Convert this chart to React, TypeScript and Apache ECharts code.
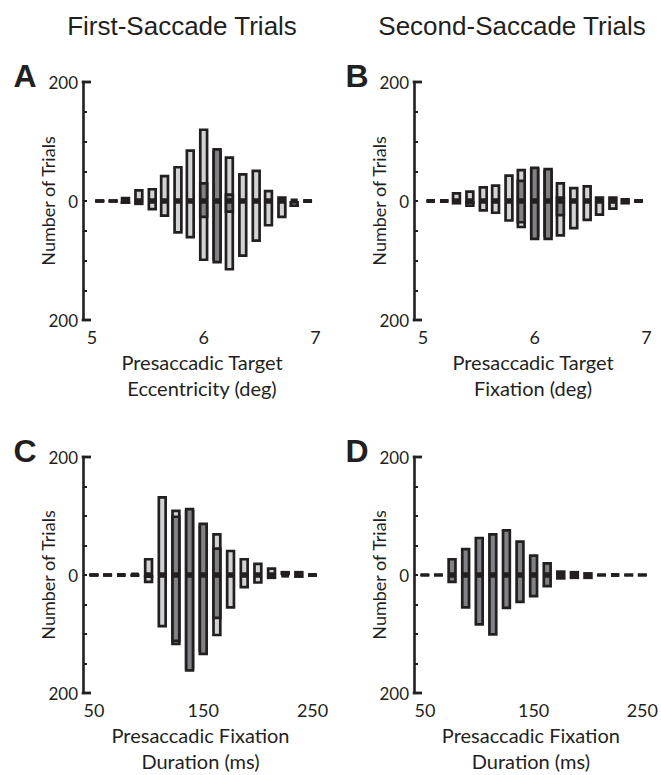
import { useEffect, useRef } from "react";
import * as echarts from "echarts";

// Bin centres
const eccBins = [5.07, 5.19, 5.3, 5.42, 5.54, 5.65, 5.77, 5.88, 6.0, 6.12, 6.23, 6.35, 6.47, 6.58, 6.7, 6.81, 6.93];
const durBins = [50, 62.5, 75, 87.5, 100, 112.5, 125, 137.5, 150, 162.5, 175, 187.5, 200, 212.5, 225, 237.5, 250];

// Panel A – first-saccade, eccentricity
const aLightUp = [1, 1, 7, 20, 22, 44, 59, 87, 122, 85, 75, 47, 53, 19, 8, 4, 2];
const aLightDown = [1, 1, 5, 7, 16, 27, 55, 63, 101, 100, 117, 94, 69, 43, 29, 10, 2];
const aDarkUp = [1, 1, 3, 2, 0, 0, 0, 0, 32, 89, 13, 0, 0, 0, 3, 0, 1];
const aDarkDown = [1, 1, 5, 2, 0, 0, 0, 0, 29, 105, 20, 0, 0, 0, 0, 0, 1];

// Panel B – second-saccade, fixation position
const bLightUp = [2, 2, 15, 18, 25, 28, 45, 54, 55, 52, 32, 24, 27, 8, 8, 3, 1];
const bLightDown = [2, 2, 6, 10, 18, 22, 35, 46, 60, 60, 60, 48, 34, 25, 15, 4, 1];
const bDarkUp = [2, 2, 2, 0, 0, 0, 0, 36, 58, 56, 8, 0, 0, 3, 3, 5, 2];
const bDarkDown = [2, 2, 2, 5, 0, 0, 0, 38, 66, 66, 26, 0, 0, 0, 0, 6, 2];

// Panel C – first-saccade, fixation duration
const cLightUp = [1, 1, 2, 2, 29, 134, 111, 110, 85, 71, 43, 29, 21, 13, 7, 7, 2];
const cLightDown = [1, 1, 2, 1, 14, 89, 119, 160, 130, 104, 57, 23, 15, 7, 4, 5, 2];
const cDarkUp = [1, 1, 2, 4, 0, 0, 101, 114, 89, 47, 0, 0, 0, 0, 2, 3, 1];
const cDarkDown = [1, 1, 2, 2, 5, 0, 114, 164, 136, 75, 0, 0, 0, 3, 3, 2, 1];

// Panel D – second-saccade, fixation duration
const dLightUp = [0, 0, 0, 0, 0, 0, 0, 0, 0, 0, 0, 0, 0, 0, 0, 0, 0];
const dLightDown = [0, 0, 0, 0, 0, 0, 0, 0, 0, 0, 0, 0, 0, 0, 0, 0, 0];
const dDarkUp = [1, 1, 29, 46, 65, 71, 78, 59, 35, 22, 8, 7, 5, 1, 2, 1, 1];
const dDarkDown = [1, 1, 14, 57, 86, 103, 58, 48, 38, 21, 8, 7, 7, 1, 2, 1, 1];

const yTickLabels = ["200", "0", "200"];
const capValues = [-200, 200];
const eccTicks = [5, 6, 7];
const durTicks = [50, 150, 250];

const titles = ["First-Saccade Trials", "Second-Saccade Trials"];
const letters = ["A", "B", "C", "D"];
const xNames = [
  "Presaccadic Target\nEccentricity (deg)",
  "Presaccadic Target\nFixation (deg)",
  "Presaccadic Fixation\nDuration (ms)",
  "Presaccadic Fixation\nDuration (ms)",
];

const INK = "#231f20";
const LIGHT = "#d1d3d4";
const DARK = "#808285";
const FONT = "Lato, 'Noto Sans', sans-serif";
const TITLE_FONT = "26px 'Liberation Sans', Arial, sans-serif";
const LETTER_FONT = "bold 32px 'Liberation Sans Narrow', 'Liberation Sans', sans-serif";
const CAP_LEN = 8;

const panels = [
  { bins: eccBins, ticks: eccTicks, min: 4.92, max: 7.05, lu: aLightUp, ld: aLightDown, du: aDarkUp, dd: aDarkDown },
  { bins: eccBins, ticks: eccTicks, min: 4.92, max: 7.05, lu: bLightUp, ld: bLightDown, du: bDarkUp, dd: bDarkDown },
  { bins: durBins, ticks: durTicks, min: 40, max: 255, lu: cLightUp, ld: cLightDown, du: cDarkUp, dd: cDarkDown },
  { bins: durBins, ticks: durTicks, min: 40, max: 255, lu: dLightUp, ld: dLightDown, du: dDarkUp, dd: dDarkDown },
];

const grids = [
  { left: 83, top: 82, width: 238, height: 238 },
  { left: 414, top: 82, width: 238, height: 238 },
  { left: 83, top: 457, width: 235, height: 240 },
  { left: 414, top: 457, width: 235, height: 240 },
];

function toData(bins: number[], vals: number[], sign: number) {
  const out: number[][] = [];
  bins.forEach((x, i) => {
    if (vals[i] > 0) out.push([x, sign * vals[i]]);
  });
  return out;
}

function buildOption() {
  const xAxis: any[] = [];
  const yAxis: any[] = [];
  const series: any[] = [];
  panels.forEach((p, i) => {
    xAxis.push({
      gridIndex: i,
      type: "value",
      min: p.min,
      max: p.max,
      axisLine: { show: false },
      axisTick: { show: false },
      splitLine: { show: false },
      axisLabel: {
        customValues: p.ticks,
        color: INK,
        fontSize: 18,
        fontFamily: FONT,
        margin: 8,
      },
      name: xNames[i],
      nameLocation: "middle",
      nameGap: 29,
      nameMoveOverlap: false,
      nameTextStyle: { color: INK, fontSize: 20, fontFamily: FONT, lineHeight: 26, verticalAlign: "top" },
    });
    yAxis.push({
      gridIndex: i,
      type: "value",
      position: "left",
      min: -200,
      max: 200,
      interval: 50,
      axisLine: { show: true, lineStyle: { color: INK, width: 2.6 } },
      axisTick: { show: true, inside: true, length: 4, lineStyle: { color: INK, width: 2 } },
      splitLine: { show: false },
      axisLabel: {
        color: INK,
        fontSize: 17,
        fontFamily: FONT,
        margin: 5,
        formatter: (v: number) => (v === 200 ? yTickLabels[0] : v === 0 ? yTickLabels[1] : v === -200 ? yTickLabels[2] : ""),
      },
      name: "Number of Trials",
      nameLocation: "middle",
      nameGap: 26,
      nameMoveOverlap: false,
      nameTextStyle: { color: INK, fontSize: 18, fontFamily: FONT },
    });
    const mk = (vals: number[], sign: number, fill: string) => ({
      type: "bar",
      xAxisIndex: i,
      yAxisIndex: i,
      barWidth: 9.5,
      barGap: "-100%",
      data: toData(p.bins, vals, sign),
      itemStyle: { color: fill, borderColor: INK, borderWidth: 2.7 },
      emphasis: { disabled: true },
    });
    series.push(mk(p.lu, 1, LIGHT), mk(p.ld, -1, LIGHT), mk(p.du, 1, DARK), mk(p.dd, -1, DARK));
  });

  return {
    animation: false,
    grid: grids.map((g) => ({ ...g, containLabel: false })),
    xAxis,
    yAxis,
    series,
    graphic: [
      { type: "text", x: 182, y: 26, style: { text: titles[0], font: TITLE_FONT, fill: INK, align: "center", verticalAlign: "middle" } },
      { type: "text", x: 512, y: 26, style: { text: titles[1], font: TITLE_FONT, fill: INK, align: "center", verticalAlign: "middle" } },
      { type: "text", x: 25, y: 76, style: { text: letters[0], font: LETTER_FONT, fill: INK, align: "center", verticalAlign: "middle" } },
      { type: "text", x: 357, y: 76, style: { text: letters[1], font: LETTER_FONT, fill: INK, align: "center", verticalAlign: "middle" } },
      { type: "text", x: 25, y: 451, style: { text: letters[2], font: LETTER_FONT, fill: INK, align: "center", verticalAlign: "middle" } },
      { type: "text", x: 357, y: 451, style: { text: letters[3], font: LETTER_FONT, fill: INK, align: "center", verticalAlign: "middle" } },
    ],
  };
}

export default function App() {
  const ref = useRef<HTMLDivElement>(null);
  useEffect(() => {
    if (!ref.current) return;
    const chart = echarts.init(ref.current, null, { renderer: "svg" });
    const option: any = buildOption();
    chart.setOption(option);
    // bracket caps at ±200, positioned through each panel's own scales
    const caps: any[] = [];
    panels.forEach((p, i) => {
      capValues.forEach((v) => {
        const pt = chart.convertToPixel({ gridIndex: i } as any, [p.min, v]) as number[];
        if (!pt) return;
        caps.push({
          type: "line",
          shape: { x1: pt[0] - 1.3, y1: pt[1], x2: pt[0] + CAP_LEN, y2: pt[1] },
          style: { stroke: INK, lineWidth: 2.8 },
          z: 10,
        });
      });
    });
    chart.setOption({ graphic: [...option.graphic, ...caps] });
    return () => chart.dispose();
  }, []);
  return <div ref={ref} style={{ width: 661, height: 775, position: "absolute", left: 0, top: 0, background: "#fff" }} />;
}
